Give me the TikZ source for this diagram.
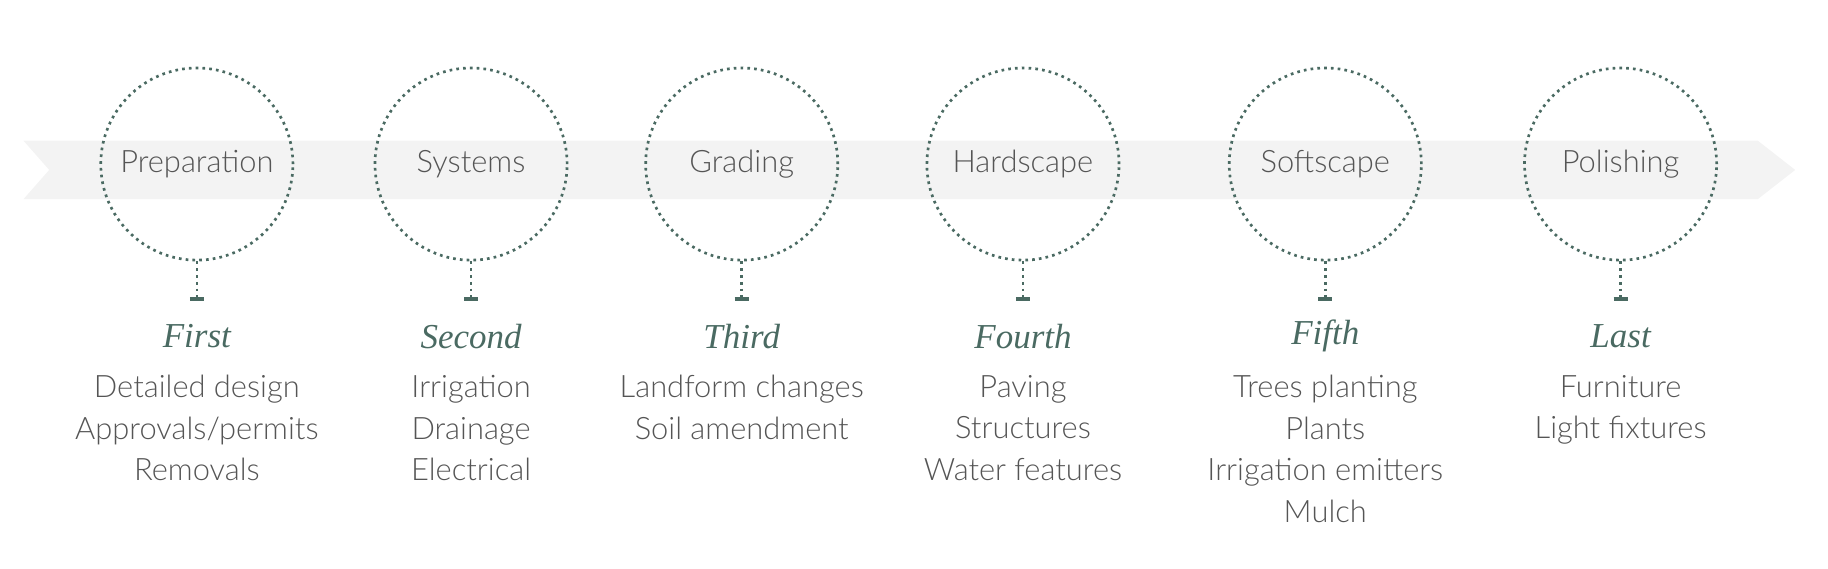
\documentclass[tikz,border=0pt]{standalone}
\usepackage{fontspec}
\setmainfont{Lato Light}
\newfontfamily\ital{Liberation Serif}
\definecolor{teal}{HTML}{4A6A62}
\definecolor{txt}{HTML}{555555}
\definecolor{band}{HTML}{F3F3F3}
\begin{document}
\begin{tikzpicture}[x=0.02cm,y=-0.02cm,
  circ/.style={circle,draw=teal,dotted,line width=1.3pt,minimum size=164*0.02cm,inner sep=0pt,text=txt,font=\fontsize{15}{18}\selectfont},
  lbl/.style={text=teal,font=\ital\itshape\fontsize{17}{20}\selectfont},
  desc/.style={text=txt,align=center,font=\fontsize{15}{20.2}\selectfont,anchor=north}]
\useasboundingbox (0,0) rectangle (1560,485);
\fill[band] (20,120) -- (1500,120) -- (1532,145) -- (1500,170) -- (20,170) -- (42,145) -- cycle;
\foreach \n/\x/\t/\l/\d in {
 a/168/Preparation/First/{Detailed design\\Approvals/permits\\Removals},
 b/402/Systems/Second/{Irrigation\\Drainage\\Electrical},
 c/633/Grading/Third/{Landform changes\\Soil amendment},
 d/873/Hardscape/Fourth/{Paving\\Structures\\Water features},
 e/1131/Softscape/Fifth/{Trees planting\\Plants\\Irrigation emitters\\Mulch},
 f/1383/Polishing/Last/{Furniture\\Light fixtures}}{
  \node[circ] (c\n) at (\x,140) {\t};
  \coordinate (s\n) at (\x,255);
  \draw[teal,dotted,line width=1.3pt] (c\n.south) -- (s\n);
  \draw[teal,line width=2pt] ([xshift=-6*0.02cm]s\n) -- ([xshift=6*0.02cm]s\n);
  \node[lbl] (l\n) at (\x,287) {\l};
  \node[desc] (d\n) at (\x,314) {\d};
}
\end{tikzpicture}
\end{document}
